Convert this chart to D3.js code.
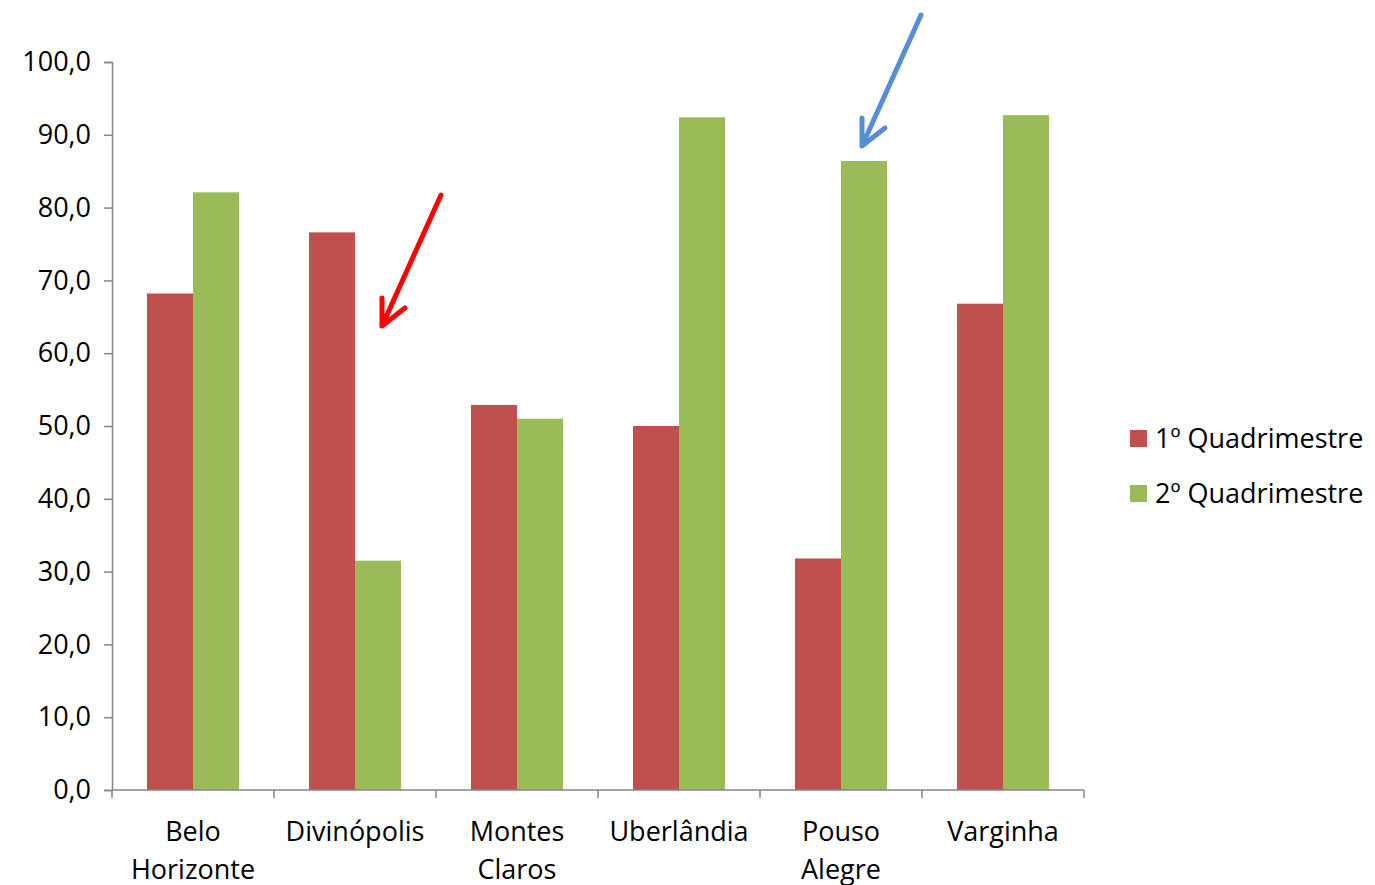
<!DOCTYPE html>
<html>
<head>
<meta charset="utf-8">
<script src="https://cdn.jsdelivr.net/npm/d3@7"></script>
<style>
  html, body { margin: 0; padding: 0; background: #fff; }
  svg { display: block; }
  svg text { font-family: "Open Sans", "Noto Sans", sans-serif; }
</style>
</head>
<body>
<svg id="chart" width="1375" height="885"></svg>
<script>
// Regional centres (label lines) and the two four-month series
const categories = [
  ["Belo", "Horizonte"],
  ["Divinópolis"],
  ["Montes", "Claros"],
  ["Uberlândia"],
  ["Pouso", "Alegre"],
  ["Varginha"]
];
const seriesNames = ["1º Quadrimestre", "2º Quadrimestre"];
const q1 = [68.2, 76.6, 52.9, 50.0, 31.8, 66.8];
const q2 = [82.1, 31.5, 51.0, 92.4, 86.4, 92.7];
const yTicks = [0, 10, 20, 30, 40, 50, 60, 70, 80, 90, 100];

const colors = ["#C0504D", "#9BBB59"];
const axisColor = "#868686";
const fontSize = "27px";

const svg = d3.select("#chart");
const plot = { left: 112, right: 1084, top: 62, bottom: 790 };

const keys = categories.map(c => c.join(" "));
const x = d3.scaleBand().domain(keys).range([plot.left, plot.right]).padding(0);
const y = d3.scaleLinear().domain([0, 100]).range([plot.bottom, plot.top]);

// two bars per group, clustered in the middle of each band
const groupFrac = 92 / 162;
const x1 = d3.scaleBand()
  .domain([0, 1])
  .range([0, x.bandwidth() * groupFrac]);
const groupOffset = (x.bandwidth() * (1 - groupFrac)) / 2;

const rows = keys.map((k, i) => ({ key: k, values: [q1[i], q2[i]] }));

const groups = svg.append("g").selectAll("g")
  .data(rows)
  .join("g")
  .attr("transform", d => `translate(${x(d.key) + groupOffset},0)`);

groups.selectAll("rect")
  .data(d => d.values.map((v, s) => ({ v, s })))
  .join("rect")
  .attr("x", d => x1(d.s))
  .attr("width", x1.bandwidth())
  .attr("y", d => y(d.v))
  .attr("height", d => y(0) - y(d.v))
  .attr("fill", d => colors[d.s]);

// y axis
const yAxis = svg.append("g")
  .attr("transform", `translate(${plot.left},0)`)
  .call(d3.axisLeft(y).tickValues(yTicks).tickSize(8).tickPadding(13)
    .tickFormat(d => d3.format(".1f")(d).replace(".", ",")))
  .attr("font-family", null)
  .attr("font-size", null);
yAxis.select(".domain").attr("stroke", axisColor).attr("stroke-width", 1.5);
yAxis.selectAll(".tick line").attr("stroke", axisColor).attr("stroke-width", 1.5);
yAxis.selectAll(".tick text")
  .attr("fill", "#000")
  .style("font-size", fontSize);

// x axis: ticks at band boundaries
const xAxisG = svg.append("g").attr("transform", `translate(0,${plot.bottom})`);
xAxisG.append("line")
  .attr("x1", plot.left).attr("x2", plot.right)
  .attr("stroke", axisColor).attr("stroke-width", 1.5);
const boundaries = keys.map(k => x(k)).concat([plot.right]);
xAxisG.selectAll("line.tick")
  .data(boundaries)
  .join("line")
  .attr("class", "tick")
  .attr("x1", d => d).attr("x2", d => d)
  .attr("y1", 0).attr("y2", 8)
  .attr("stroke", axisColor).attr("stroke-width", 1.5);

const labels = svg.append("g").selectAll("text")
  .data(categories)
  .join("text")
  .attr("x", (d, i) => x(keys[i]) + x.bandwidth() / 2)
  .attr("y", plot.bottom + 51)
  .attr("text-anchor", "middle")
  .style("font-size", fontSize)
  .attr("fill", "#000");
labels.selectAll("tspan")
  .data(d => d)
  .join("tspan")
  .attr("x", function () { return this.parentNode.getAttribute("x"); })
  .attr("dy", (d, i) => i === 0 ? 0 : 38)
  .text(d => d);

// legend
const legend = svg.append("g").selectAll("g")
  .data(seriesNames)
  .join("g")
  .attr("transform", (d, i) => `translate(1130,${430 + i * 55})`);
legend.append("rect")
  .attr("width", 17).attr("height", 17)
  .attr("fill", (d, i) => colors[i]);
legend.append("text")
  .attr("x", 25).attr("y", 18)
  .style("font-size", fontSize)
  .attr("fill", "#000")
  .text(d => d);

// annotation arrows
const arrows = [
  { from: [441, 195], to: [382, 326], color: "#FF0000", barbs: [[382, 298], [405, 308]] },
  { from: [921, 15], to: [862, 146], color: "#558ED5", barbs: [[862, 118], [885, 128]] }
];
const arrowG = svg.append("g");
arrows.forEach(a => {
  const path = d3.path();
  path.moveTo(a.from[0], a.from[1]);
  path.lineTo(a.to[0], a.to[1]);
  path.moveTo(a.barbs[0][0], a.barbs[0][1]);
  path.lineTo(a.to[0], a.to[1]);
  path.lineTo(a.barbs[1][0], a.barbs[1][1]);
  arrowG.append("path")
    .attr("d", path.toString())
    .attr("fill", "none")
    .attr("stroke", a.color)
    .attr("stroke-width", 5)
    .attr("stroke-linecap", "round")
    .attr("stroke-linejoin", "round");
});
</script>
</body>
</html>
